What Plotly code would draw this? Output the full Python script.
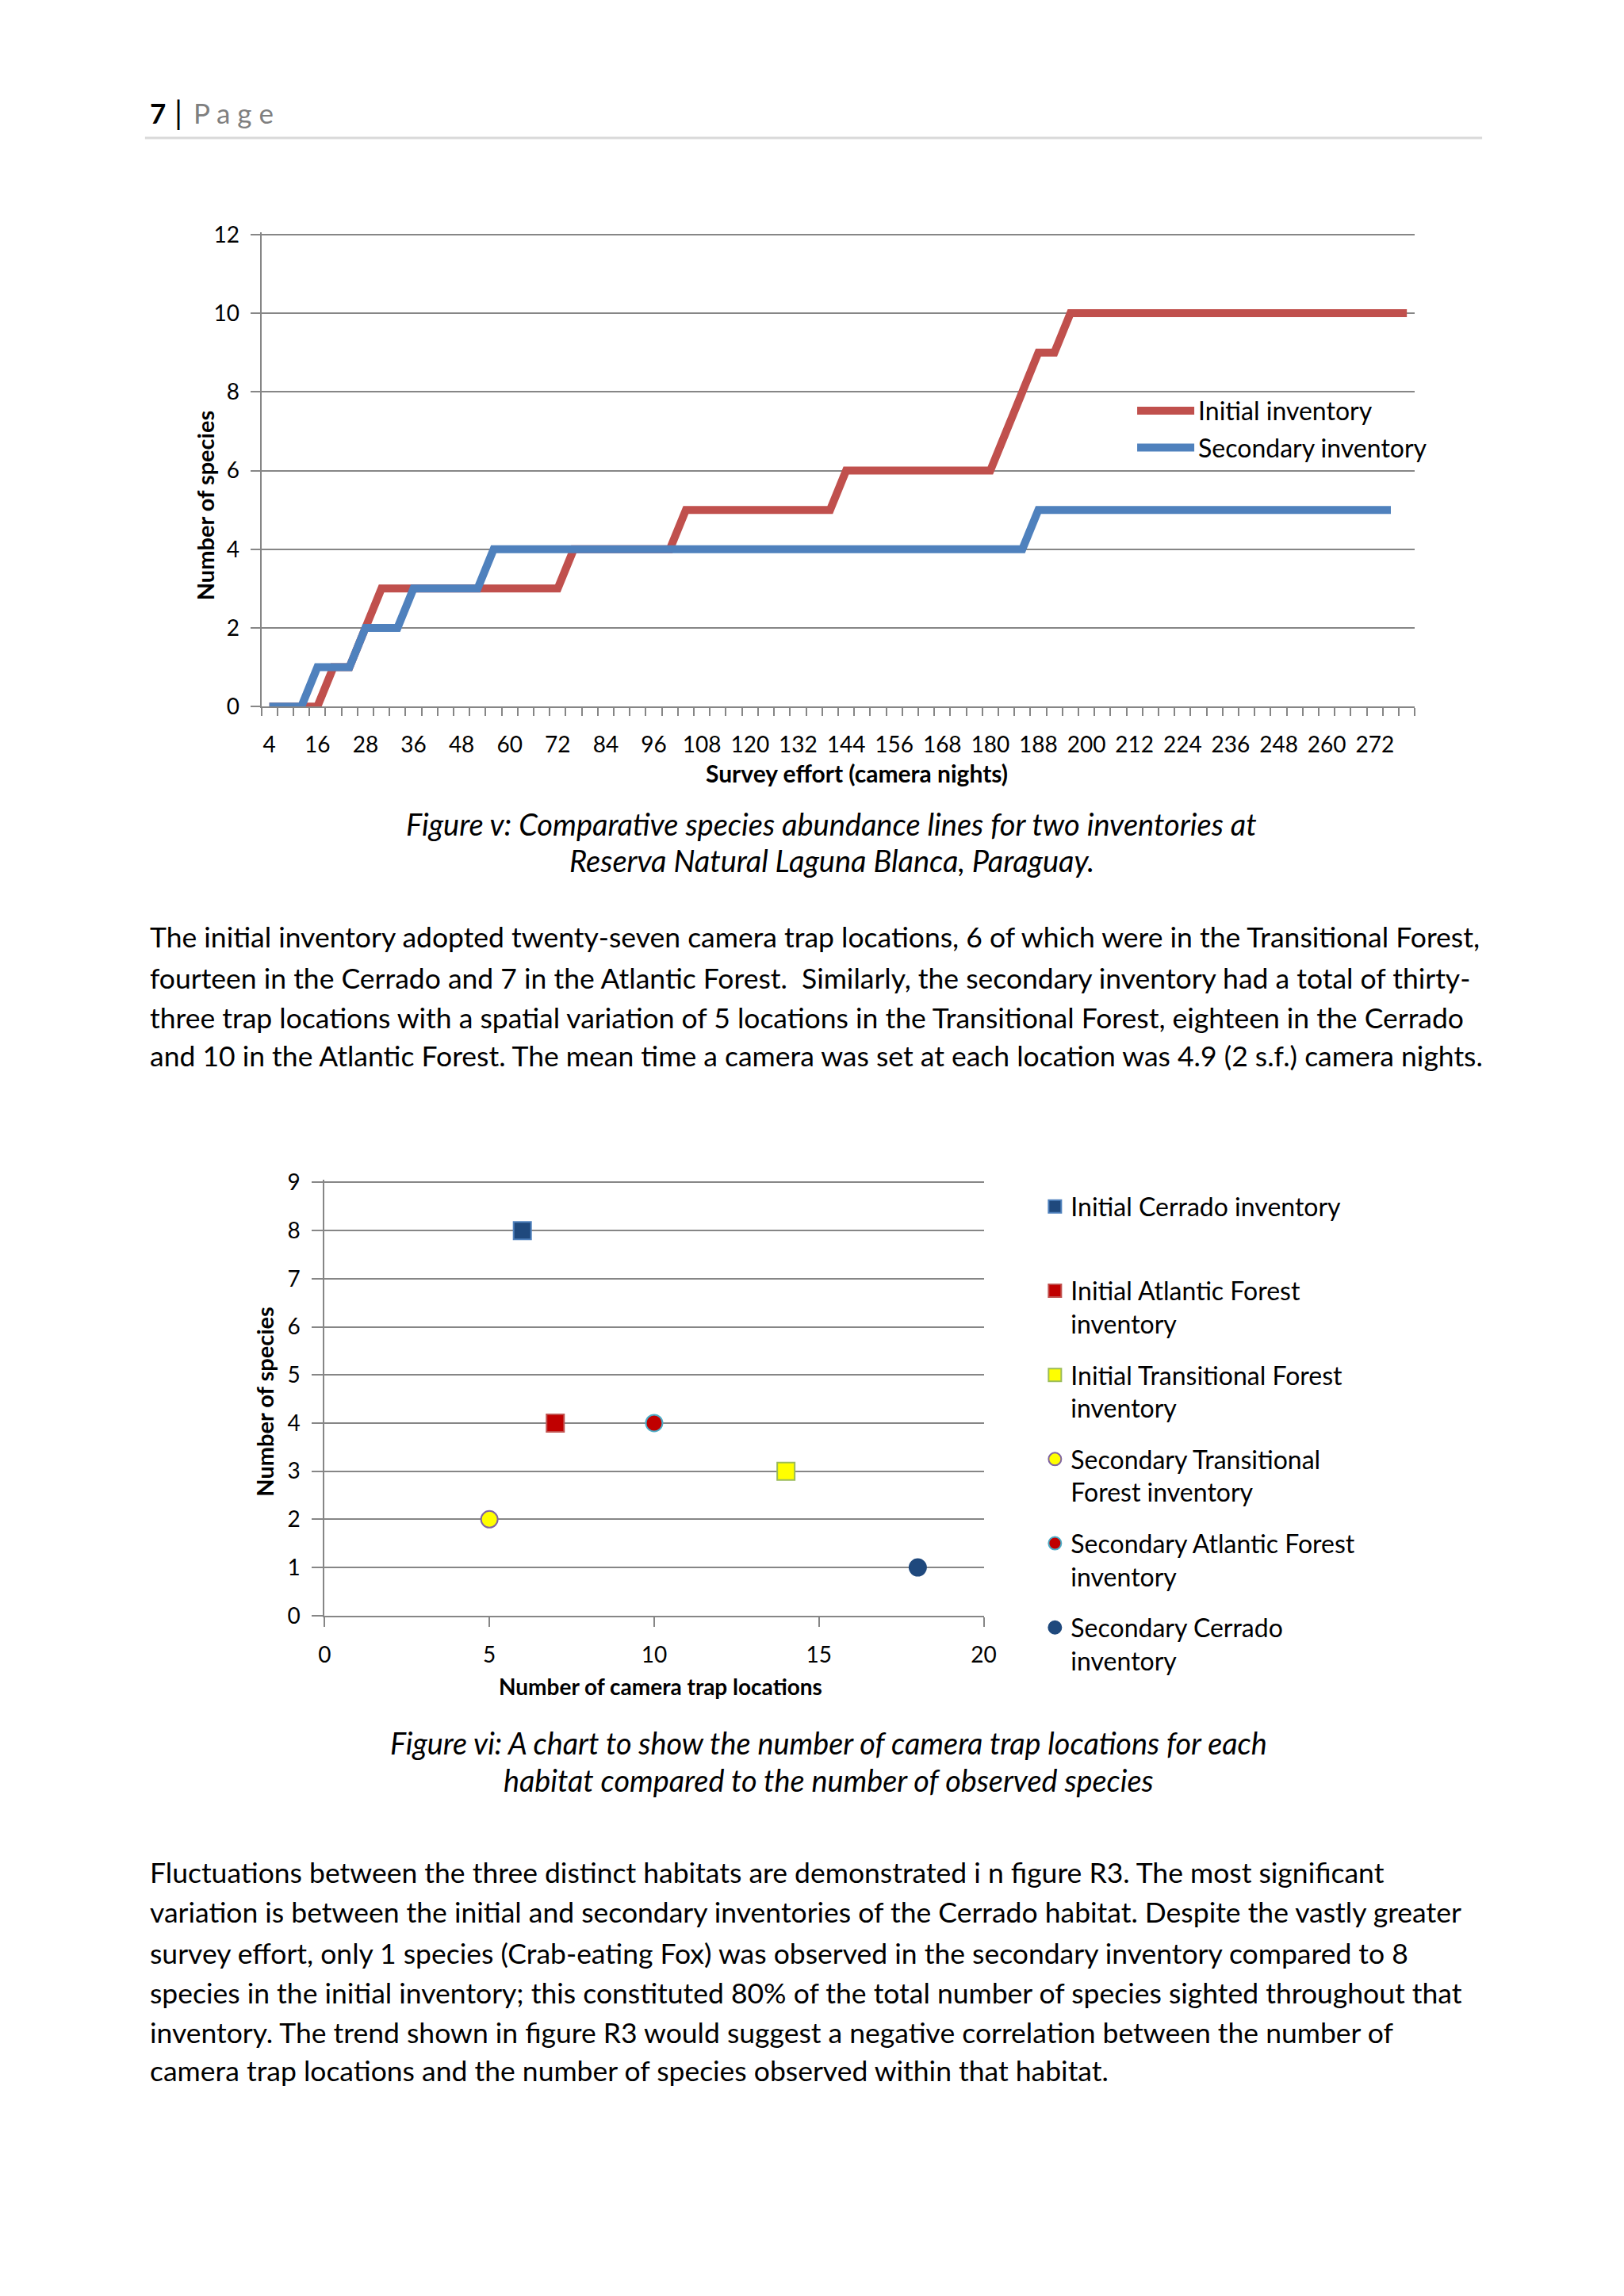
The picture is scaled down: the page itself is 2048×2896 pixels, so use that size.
import plotly.graph_objects as go

PAGE_W, PAGE_H = 2048, 2896
FONT = "Lato"
GRID = "#868686"

# ---------------- Figure v data (line chart) ----------------
night_tick_labels = ["4", "16", "28", "36", "48", "60", "72", "84", "96", "108",
                     "120", "132", "144", "156", "168", "180", "188", "200",
                     "212", "224", "236", "248", "260", "272"]
initial_inventory = [0, 0, 0, 0, 1, 1, 2, 3, 3, 3, 3, 3, 3, 3, 3, 3, 3, 3, 3,
                     4, 4, 4, 4, 4, 4, 4, 5, 5, 5, 5, 5, 5, 5, 5, 5, 5,
                     6, 6, 6, 6, 6, 6, 6, 6, 6, 6, 7, 8, 9, 9,
                     10, 10, 10, 10, 10, 10, 10, 10, 10, 10, 10, 10, 10, 10,
                     10, 10, 10, 10, 10, 10, 10, 10]
secondary_inventory = [0, 0, 0, 1, 1, 1, 2, 2, 2, 3, 3, 3, 3, 3,
                       4, 4, 4, 4, 4, 4, 4, 4, 4, 4, 4, 4, 4, 4, 4, 4, 4,
                       4, 4, 4, 4, 4, 4, 4, 4, 4, 4, 4, 4, 4, 4, 4, 4, 4,
                       5, 5, 5, 5, 5, 5, 5, 5, 5, 5, 5, 5, 5, 5, 5, 5, 5,
                       5, 5, 5, 5, 5, 5]
line_series = ["Initial inventory", "Secondary inventory"]

# ---------------- Figure vi data (scatter) ----------------
habitat_series = ["Initial Cerrado inventory",
                  "Initial Atlantic Forest inventory",
                  "Initial Transitional Forest inventory",
                  "Secondary Transitional Forest inventory",
                  "Secondary Atlantic Forest inventory",
                  "Secondary Cerrado inventory"]
legend_labels = ["Initial Cerrado inventory<br>\u00a0",
                 "Initial Atlantic Forest<br>inventory",
                 "Initial Transitional Forest<br>inventory",
                 "Secondary Transitional<br>Forest inventory",
                 "Secondary Atlantic Forest<br>inventory",
                 "Secondary Cerrado<br>inventory"]
trap_locations = [6, 7, 14, 5, 10, 18]
species_observed = [8, 4, 3, 2, 4, 1]

# ---------------- page text ----------------
caption_v = ["Figure v: Comparative species abundance lines for two inventories at",
             "Reserva Natural Laguna Blanca, Paraguay."]
caption_vi = ["Figure vi: A chart to show the number of camera trap locations for each",
              "habitat compared to the number of observed species"]
para_1 = ["The initial inventory adopted twenty-seven camera trap locations, 6 of which were in the Transitional Forest,",
          "fourteen in the Cerrado and 7 in the Atlantic Forest.  Similarly, the secondary inventory had a total of thirty-",
          "three trap locations with a spatial variation of 5 locations in the Transitional Forest, eighteen in the Cerrado",
          "and 10 in the Atlantic Forest. The mean time a camera was set at each location was 4.9 (2 s.f.) camera nights."]
para_2 = ["Fluctuations between the three distinct habitats are demonstrated i n figure R3. The most significant",
          "variation is between the initial and secondary inventories of the Cerrado habitat. Despite the vastly greater",
          "survey effort, only 1 species (Crab-eating Fox) was observed in the secondary inventory compared to 8",
          "species in the initial inventory; this constituted 80% of the total number of species sighted throughout that",
          "inventory. The trend shown in figure R3 would suggest a negative correlation between the number of",
          "camera trap locations and the number of species observed within that habitat."]

# page pixel -> paper fraction (with a small correction for the observed
# render scaling about the page centre)
S = 0.9905
CX, CY = 1024, 1448
DX = 4


def fx(p):
    return (CX + (p + DX - CX) / S) / PAGE_W


def fy(p):
    return 1 - (CY + (p - CY) / S) / PAGE_H


fig = go.Figure()

# ---- line chart traces ----
line_colors = ["#C0504D", "#4F81BD"]
for name, vals, col in zip(line_series, [initial_inventory, secondary_inventory], line_colors):
    fig.add_trace(go.Scatter(
        x=list(range(1, len(vals) + 1)), y=vals, mode="lines", name=name,
        line=dict(color=col, width=10), xaxis="x", yaxis="y",
        legend="legend", legendgroup=name, cliponaxis=False, hoverinfo="skip"))

# ---- scatter traces ----
marker_styles = [
    dict(symbol="square", color="#1F497D", line=dict(color="#4F81BD", width=2), size=22),
    dict(symbol="square", color="#C00000", line=dict(color="#C0504D", width=2), size=22),
    dict(symbol="square", color="#FFFF00", line=dict(color="#9BBB59", width=2), size=22),
    dict(symbol="circle", color="#FFFF00", line=dict(color="#8064A2", width=2), size=21),
    dict(symbol="circle", color="#C00000", line=dict(color="#4BACC6", width=2), size=21),
    dict(symbol="circle", color="#1F497D", line=dict(color="#1F497D", width=2), size=21),
]
for name, lab, xv, yv, ms in zip(habitat_series, legend_labels, trap_locations,
                                  species_observed, marker_styles):
    fig.add_trace(go.Scatter(
        x=[xv], y=[yv], mode="markers", name=lab, marker=ms,
        xaxis="x2", yaxis="y2", legend="legend2", legendgroup=name,
        hovertext=[name], hoverinfo="text"))

n_cat = len(initial_inventory)
axis_common = dict(showline=True, linecolor=GRID, linewidth=2, zeroline=False,
                   tickfont=dict(family=FONT, size=28, color="black"), fixedrange=True)

# small headroom so the top gridline is drawn; domain top adjusted to keep scale
Y1_TOP, Y1_BOT, Y1_MAX, Y1_PAD = 295, 891, 12, 0.06
Y2_TOP, Y2_BOT, Y2_MAX, Y2_PAD = 1492, 2039, 9, 0.06
y1_unit = (Y1_BOT - Y1_TOP) / Y1_MAX
y2_unit = (Y2_BOT - Y2_TOP) / Y2_MAX

fig.update_layout(
    width=PAGE_W, height=PAGE_H, autosize=False,
    margin=dict(l=0, r=0, t=0, b=0),
    paper_bgcolor="white", plot_bgcolor="white",
    font=dict(family=FONT, color="black"),
    xaxis=dict(domain=[fx(328), fx(1786)], range=[0.5, n_cat + 0.5], anchor="y",
               tickmode="array",
               tickvals=[1 + 3 * k for k in range(len(night_tick_labels))],
               ticktext=night_tick_labels, ticks="", showgrid=False,
               ticklabelstandoff=22,
               minor=dict(ticks="outside", tick0=0.5, dtick=1, ticklen=10,
                          tickwidth=2, tickcolor=GRID, showgrid=False),
               **axis_common),
    yaxis=dict(domain=[fy(Y1_BOT), fy(Y1_TOP - Y1_PAD * y1_unit)],
               range=[0, Y1_MAX + Y1_PAD], tickvals=[0, 2, 4, 6, 8, 10, 12], anchor="x",
               ticks="outside", ticklen=12, tickwidth=2, tickcolor=GRID,
               showgrid=True, gridcolor=GRID, gridwidth=2,
               ticklabelstandoff=8, **axis_common),
    xaxis2=dict(domain=[fx(408), fx(1241)], range=[0, 20], dtick=5, anchor="y2",
                ticks="outside", ticklen=12, tickwidth=2, tickcolor=GRID,
                showgrid=False, ticklabelstandoff=12, **axis_common),
    yaxis2=dict(domain=[fy(Y2_BOT), fy(Y2_TOP - Y2_PAD * y2_unit)],
                range=[0, Y2_MAX + Y2_PAD], tickvals=list(range(0, 10)), anchor="x2",
                ticks="outside", ticklen=14, tickwidth=2, tickcolor=GRID,
                showgrid=True, gridcolor=GRID, gridwidth=2,
                ticklabelstandoff=9, **axis_common),
    legend=dict(x=fx(1430), y=fy(490), xanchor="left", yanchor="top",
                bgcolor="rgba(0,0,0,0)", borderwidth=0, itemwidth=72,
                font=dict(family=FONT, size=32, color="black"),
                traceorder="grouped", tracegroupgap=2, itemclick=False,
                itemdoubleclick=False),
    legend2=dict(x=fx(1311), y=fy(1495), xanchor="left", yanchor="top",
                 bgcolor="rgba(0,0,0,0)", borderwidth=0, itemwidth=30,
                 valign="top",
                 font=dict(family=FONT, size=32, color="black"),
                 traceorder="grouped", tracegroupgap=20, itemclick=False,
                 itemdoubleclick=False),
    showlegend=True,
)

ann = []


def add_text(text, x, y, size, xanchor="left", color="black", angle=0):
    ann.append(dict(text=text, x=fx(x), y=fy(y), xref="paper", yref="paper",
                    xanchor=xanchor, yanchor="middle", showarrow=False,
                    textangle=angle,
                    font=dict(family=FONT, size=size, color=color)))


TEXT_DY = -3

# header
add_text("<b>7</b>", 185, 144 + TEXT_DY, 35)
add_text("|", 223, 144 + TEXT_DY, 40, xanchor="center")
add_text("P a g e", 240, 144 + TEXT_DY, 35, color="#7F7F7F")

# axis titles
add_text("<b>Number of species</b>", 257, 637, 29, xanchor="center", angle=-90)
add_text("<b>Survey effort (camera nights)</b>", 1081, 975, 30, xanchor="center")
add_text("<b>Number of species</b>", 332, 1769, 29, xanchor="center", angle=-90)
add_text("<b>Number of camera trap locations</b>", 833, 2128, 28, xanchor="center")

# captions
for line, yy in zip(caption_v, [1042, 1088]):
    add_text("<i>" + line + "</i>", 1049, yy + TEXT_DY, 38, xanchor="center")
for line, yy in zip(caption_vi, [2203, 2250]):
    add_text("<i>" + line + "</i>", 1045, yy + TEXT_DY, 37.8, xanchor="center")

# paragraphs
for line, yy in zip(para_1, [1185, 1237, 1287, 1335]):
    add_text(line, 185, yy + TEXT_DY, 35.5)
for line, yy in zip(para_2, [2363, 2413, 2465, 2515, 2565, 2613]):
    add_text(line, 185, yy, 35.5)

fig.update_layout(annotations=ann)

# header rule
fig.add_shape(type="line", xref="paper", yref="paper",
              x0=fx(181), x1=fx(1871), y0=fy(173), y1=fy(173),
              line=dict(color="#D9D9D9", width=3))

fig.write_html("out.html", config={"displayModeBar": False},
               post_script="document.body.style.margin='0';"
                           "document.body.style.overflow='hidden';")
